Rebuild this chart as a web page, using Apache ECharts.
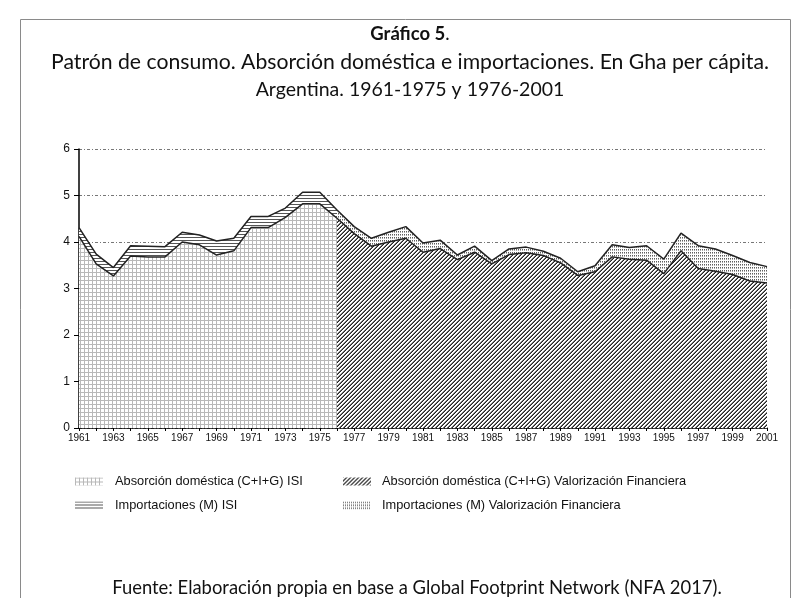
<!DOCTYPE html>
<html>
<head>
<meta charset="utf-8">
<script src="https://cdn.jsdelivr.net/npm/echarts@6/dist/echarts.min.js"></script>
<style>
html,body{margin:0;padding:0;background:#fff;}
#chart{width:812px;height:598px;}
</style>
</head>
<body>
<div id="chart"></div>
<script>
// ---- Data ----
var years = [];
for (var y = 1961; y <= 2001; y++) years.push(String(y));

// ISI period 1961-1976
var isiAbsorcion = [4.12, 3.53, 3.27, 3.70, 3.68, 3.68, 4.00, 3.94, 3.72, 3.81, 4.31, 4.31, 4.53, 4.82, 4.82, 4.51];
var isiImport    = [0.19, 0.21, 0.18, 0.22, 0.23, 0.22, 0.21, 0.21, 0.30, 0.27, 0.24, 0.24, 0.20, 0.25, 0.25, 0.18];
// Valorización Financiera 1976-2001
var vfAbsorcion = [4.51, 4.18, 3.91, 4.00, 4.08, 3.78, 3.86, 3.62, 3.78, 3.53, 3.73, 3.77, 3.71, 3.55, 3.28, 3.36, 3.68, 3.63, 3.61, 3.32, 3.81, 3.43, 3.37, 3.30, 3.16, 3.12];
var vfImport    = [0.18, 0.15, 0.17, 0.21, 0.25, 0.20, 0.18, 0.10, 0.13, 0.07, 0.12, 0.12, 0.09, 0.10, 0.08, 0.13, 0.26, 0.25, 0.31, 0.31, 0.38, 0.49, 0.48, 0.41, 0.40, 0.35];

var yTicks = [0, 1, 2, 3, 4, 5, 6];
var names = [
  'Absorción doméstica (C+I+G) ISI',
  'Importaciones (M) ISI',
  'Absorción doméstica (C+I+G) Valorización Financiera',
  'Importaciones (M) Valorización Financiera'
];

function padISI(arr) {
  var out = arr.slice();
  while (out.length < years.length) out.push(null);
  return out;
}
function padVF(arr) {
  var out = [];
  while (out.length + arr.length < years.length) out.push(null);
  return out.concat(arr);
}

// ---- Fill patterns ----
function makeCanvas(w, h, draw) {
  var c = document.createElement('canvas');
  c.width = w; c.height = h;
  var ctx = c.getContext('2d');
  ctx.fillStyle = '#ffffff';
  ctx.fillRect(0, 0, w, h);
  draw(ctx, w, h);
  return { image: c, repeat: 'repeat' };
}
var patGrid = makeCanvas(4, 4, function (ctx) {
  ctx.fillStyle = '#b8b8b8';
  ctx.fillRect(0, 0, 4, 1);
  ctx.fillRect(0, 0, 1, 4);
});
var patHoriz = makeCanvas(4, 3, function (ctx) {
  ctx.fillStyle = '#555555';
  ctx.fillRect(0, 0, 4, 1);
});
var patDiag = makeCanvas(4, 4, function (ctx) {
  ctx.fillStyle = '#222222';
  ctx.fillRect(3, 0, 1, 1);
  ctx.fillRect(2, 1, 1, 1);
  ctx.fillRect(1, 2, 1, 1);
  ctx.fillRect(0, 3, 1, 1);
  ctx.fillStyle = '#777777';
  ctx.fillRect(0, 2, 1, 1);
  ctx.fillRect(1, 1, 1, 1);
  ctx.fillRect(2, 0, 1, 1);
  ctx.fillRect(3, 3, 1, 1);
});
var patDots = makeCanvas(2, 3, function (ctx) {
  ctx.fillStyle = '#5e5e5e';
  ctx.fillRect(0, 0, 1, 1);
  ctx.fillStyle = '#a8a8a8';
  ctx.fillRect(0, 1, 1, 1);
});

function areaSeries(name, data, stack, pat) {
  return {
    name: name,
    type: 'line',
    stack: stack,
    data: data,
    symbol: 'none',
    showSymbol: false,
    connectNulls: false,
    lineStyle: { color: '#222', width: 1.5 },
    itemStyle: { color: pat },
    areaStyle: { color: pat, opacity: 1 },
    emphasis: { disabled: true },
    animation: false
  };
}

var chart = echarts.init(document.getElementById('chart'), null, { renderer: 'canvas' });
var titleFont = 'Lato, "Open Sans", sans-serif';
var axisFont = 'Liberation Sans, Arial, sans-serif';
chart.setOption({
  animation: false,
  title: [
    { text: '{b|Gráfico 5}.', left: 405, top: 20, textAlign: 'center',
      textStyle: { fontFamily: titleFont, fontSize: 18.5, fontWeight: 'normal', color: '#111',
        rich: { b: { fontFamily: titleFont, fontSize: 18.5, fontWeight: 'bold', color: '#111' } } } },
    { text: 'Patrón de consumo. Absorción doméstica e importaciones. En Gha per cápita.', left: 405, top: 47, textAlign: 'center',
      textStyle: { fontFamily: titleFont, fontSize: 21.2, fontWeight: 'normal', color: '#111' } },
    { text: 'Argentina. 1961-1975 y 1976-2001', left: 405, top: 75, textAlign: 'center',
      textStyle: { fontFamily: titleFont, fontSize: 19.5, fontWeight: 'normal', color: '#111' } },
    { text: 'Fuente: Elaboración propia en base a Global Footprint Network (NFA 2017).', left: 412, top: 574, textAlign: 'center',
      textStyle: { fontFamily: titleFont, fontSize: 18.4, fontWeight: 'normal', color: '#111' } }
  ],
  graphic: [
    { type: 'rect', shape: { x: 20.5, y: 19.5, width: 770, height: 600 }, style: { fill: 'none', stroke: '#8a8a8a', lineWidth: 1 }, silent: true, z: -1 }
  ],
  legend: [
    { orient: 'vertical', left: 70, top: 470, itemWidth: 28, itemHeight: 8, itemGap: 11, icon: 'rect',
      data: [names[0], names[1]], selectedMode: false,
      itemStyle: { borderWidth: 0 },
      textStyle: { fontFamily: axisFont, fontSize: 12.8, color: '#111', padding: [0, 0, 0, 7] } },
    { orient: 'vertical', left: 338, top: 470, itemWidth: 28, itemHeight: 8, itemGap: 11, icon: 'rect',
      data: [names[2], names[3]], selectedMode: false,
      itemStyle: { borderWidth: 0 },
      textStyle: { fontFamily: axisFont, fontSize: 12.8, color: '#111', padding: [0, 0, 0, 6] } }
  ],
  grid: { left: 79, right: 45, top: 149, bottom: 170, containLabel: false },
  xAxis: {
    type: 'category',
    data: years,
    boundaryGap: false,
    axisLine: { lineStyle: { color: '#000', width: 1.5 } },
    axisTick: { show: true, interval: 0, length: 3, lineStyle: { color: '#000' } },
    axisLabel: { interval: 1, fontFamily: axisFont, fontSize: 10, color: '#111', margin: 5 },
    splitLine: { show: false }
  },
  yAxis: {
    type: 'value',
    min: yTicks[0],
    max: yTicks[yTicks.length - 1],
    interval: 1,
    axisLine: { show: true, lineStyle: { color: '#000', width: 1.5 } },
    axisTick: { show: true, length: 5, lineStyle: { color: '#000' } },
    axisLabel: { fontFamily: axisFont, fontSize: 12, color: '#111', margin: 9 },
    splitLine: { show: true, lineStyle: { color: '#777', width: 1, type: [3, 2, 1, 2] } }
  },
  series: [
    areaSeries(names[0], padISI(isiAbsorcion), 'isi', patGrid),
    areaSeries(names[1], padISI(isiImport), 'isi', patHoriz),
    areaSeries(names[2], padVF(vfAbsorcion), 'vf', patDiag),
    areaSeries(names[3], padVF(vfImport), 'vf', patDots)
  ]
});
</script>
</body>
</html>
